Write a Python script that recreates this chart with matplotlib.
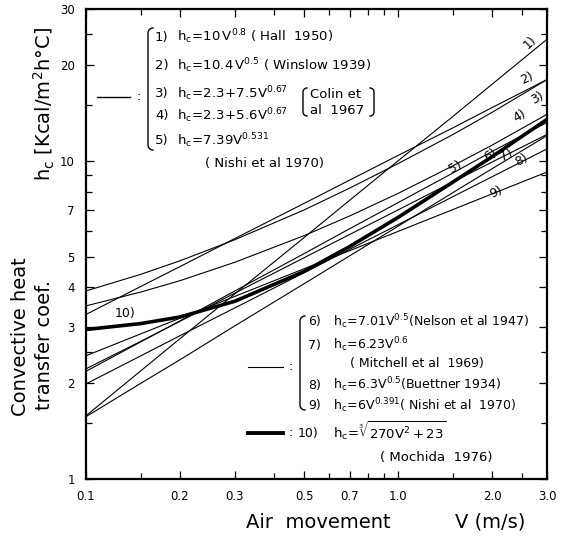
import numpy as np
import matplotlib
matplotlib.use("Agg")
import matplotlib.pyplot as plt
from matplotlib.lines import Line2D

# air velocity (m/s) and convective heat transfer coef. hc (Kcal/m2 h C)
V = [0.1, 0.15, 0.2, 0.3, 0.5, 0.7, 1.0, 1.5, 2.0, 3.0]
hc1 = [1.58, 2.19, 2.76, 3.82, 5.74, 7.52, 10.0, 13.8, 17.4, 24.1]
hc2 = [3.29, 4.03, 4.65, 5.70, 7.35, 8.70, 10.4, 12.7, 14.7, 18.0]
hc3 = [3.90, 4.40, 4.85, 5.65, 7.01, 8.21, 9.80, 12.1, 14.2, 18.0]
hc4 = [3.50, 3.87, 4.20, 4.80, 5.82, 6.71, 7.90, 9.65, 11.2, 14.0]
hc5 = [2.18, 2.70, 3.14, 3.90, 5.11, 6.12, 7.39, 9.16, 10.7, 13.2]
hc6 = [2.22, 2.71, 3.13, 3.84, 4.96, 5.87, 7.01, 8.59, 9.91, 12.1]
hc7 = [1.57, 2.00, 2.37, 3.03, 4.11, 5.03, 6.23, 7.95, 9.44, 12.0]
hc8 = [1.99, 2.44, 2.82, 3.45, 4.45, 5.27, 6.30, 7.72, 8.91, 10.9]
hc9 = [2.44, 2.86, 3.20, 3.75, 4.58, 5.22, 6.00, 7.03, 7.87, 9.22]
hc10 = [2.95, 3.08, 3.23, 3.62, 4.49, 5.38, 6.64, 8.58, 10.3, 13.5]

thin_curves = [hc1, hc2, hc3, hc4, hc5, hc6, hc7, hc8, hc9]

x_ticks = [0.1, 0.2, 0.3, 0.5, 0.7, 1.0, 2.0, 3.0]
x_ticklabels = ["0.1", "0.2", "0.3", "0.5", "0.7", "1.0", "2.0", "3.0"]
x_minor = [0.15, 0.4, 0.6, 0.8, 0.9, 1.5, 2.5]
y_ticks = [1, 2, 3, 4, 5, 7, 10, 20, 30]
y_ticklabels = ["1", "2", "3", "4", "5", "7", "10", "20", "30"]
y_minor = [1.5, 2.5, 6, 8, 9, 15, 25]

W, H = 562, 542
fig = plt.figure(figsize=(W / 100, H / 100), dpi=100)
ax = fig.add_axes([86 / W, 1 - 479 / H, 461 / W, 470 / H])

for hc in thin_curves:
    ax.plot(V, hc, color="black", lw=0.8)
ax.plot(V, hc10, color="black", lw=2.6, solid_capstyle="butt")

ax.set_xscale("log")
ax.set_yscale("log")
ax.set_xlim(0.1, 3.0)
ax.set_ylim(1, 30)
ax.set_xticks(x_ticks)
ax.set_xticklabels(x_ticklabels)
ax.set_xticks(x_minor, minor=True)
ax.set_xticklabels([], minor=True)
ax.set_yticks(y_ticks)
ax.set_yticklabels(y_ticklabels)
ax.set_yticks(y_minor, minor=True)
ax.set_yticklabels([], minor=True)
ax.tick_params(which="both", direction="in", top=True, right=True, width=0.9)
ax.tick_params(which="major", length=6, labelsize=8.5, pad=8)
ax.tick_params(which="minor", length=4)
for s in ax.spines.values():
    s.set_linewidth(1.6)

# curve numbers
curve_labels = ["1)", "2)", "3)", "4)", "5)", "6)", "7)", "8)", "9)", "10)"]
label_pos = [(530, 42), (527, 78), (537, 98), (520, 116), (455, 167),
             (490, 155), (506, 155), (521, 160), (496, 192), (125, 313)]
label_rot = [45, 25, 30, 30, 30, 30, 30, 30, 25, 0]
for lab, (px, py), r in zip(curve_labels, label_pos, label_rot):
    ax.text((px - 86) / 461, (479 - py) / 470, lab, transform=ax.transAxes,
            fontsize=9, rotation=r, ha="center", va="center")


def ftext(px, py, s, size=9.5, **kw):
    fig.text(px / W, 1 - py / H, s, fontsize=size, va="center", **kw)


def bracket(px, y0, y1, w=5, side=1):
    # "(" shaped bracket when side=1, ")" when side=-1
    t = np.linspace(0, np.pi / 2, 12)
    top_x = px + side * (w - w * np.sin(t))
    top_y = y0 + w - w * np.cos(t)
    bot_x = px + side * (w * (1 - np.cos(t)))
    bot_y = y1 - w + w * np.sin(t)
    xs = np.concatenate([top_x, bot_x])
    ys = np.concatenate([top_y, bot_y])
    fig.add_artist(Line2D(xs / W, 1 - ys / H, color="black", lw=1.0))


def legline(x0, x1, py, lw):
    fig.add_artist(Line2D([x0 / W, x1 / W], [1 - py / H, 1 - py / H],
                          color="black", lw=lw))


# upper group 1)-5)
legline(97, 130, 97, 1.0)
ftext(136, 97, ":")
bracket(148, 28, 150)
rows_top = [
    (37, "1)", r"$\mathrm{h_c\!=\!10\,V^{0.8}}$ ( Hall  1950)"),
    (66, "2)", r"$\mathrm{h_c\!=\!10.4\,V^{0.5}}$ ( Winslow 1939)"),
    (94, "3)", r"$\mathrm{h_c\!=\!2.3\!+\!7.5V^{0.67}}$"),
    (116, "4)", r"$\mathrm{h_c\!=\!2.3\!+\!5.6V^{0.67}}$"),
    (141, "5)", r"$\mathrm{h_c\!=\!7.39V^{0.531}}$"),
]
for py, n, s in rows_top:
    ftext(155, py, n)
    ftext(177, py, s)
bracket(303, 88, 116, w=4, side=1)
ftext(310, 94, "Colin et")
ftext(310, 110, "al  1967")
bracket(374, 88, 116, w=4, side=-1)
ftext(205, 163, "( Nishi et al 1970)")

# lower group 6)-9)
legline(248, 283, 367, 0.8)
ftext(288, 367, ":")
bracket(300, 316, 410)
rows_bot = [
    (322, "6)", r"$\mathrm{h_c\!=\!7.01V^{0.5}}$(Nelson et al 1947)"),
    (345, "7)", r"$\mathrm{h_c\!=\!6.23V^{0.6}}$"),
    (385, "8)", r"$\mathrm{h_c\!=\!6.3V^{0.5}}$(Buettner 1934)"),
    (406, "9)", r"$\mathrm{h_c\!=\!6V^{0.391}}$( Nishi et al  1970)"),
]
for py, n, s in rows_bot:
    ftext(308, py, n, size=9)
    ftext(333, py, s, size=9)
ftext(350, 363, "( Mitchell et al  1969)", size=9)

# Mochida curve
legline(248, 283, 433, 2.8)
ftext(288, 433, ":")
ftext(298, 433, "10)", size=9)
ftext(333, 431, r"$\mathrm{h_c\!=\!\sqrt[3]{270V^2+23}}$", size=9.5)
ftext(380, 457, "( Mochida  1976)", size=9.5)

# axis titles
fig.text(318 / W, 1 - 522 / H, "Air  movement", fontsize=14, ha="center", va="center")
fig.text(490 / W, 1 - 522 / H, "V (m/s)", fontsize=14, ha="center", va="center")
fig.text(21 / W, 1 - 337 / H, "Convective heat", fontsize=14, rotation=90,
         ha="center", va="center")
fig.text(44 / W, 1 - 345 / H, "transfer coef.", fontsize=14, rotation=90,
         ha="center", va="center")
fig.text(44 / W, 1 - 104 / H, r"$\mathrm{h_c}$ [Kcal/m$^2$h°C]", fontsize=14,
         rotation=90, ha="center", va="center")

fig.savefig("out.png", dpi=100)
